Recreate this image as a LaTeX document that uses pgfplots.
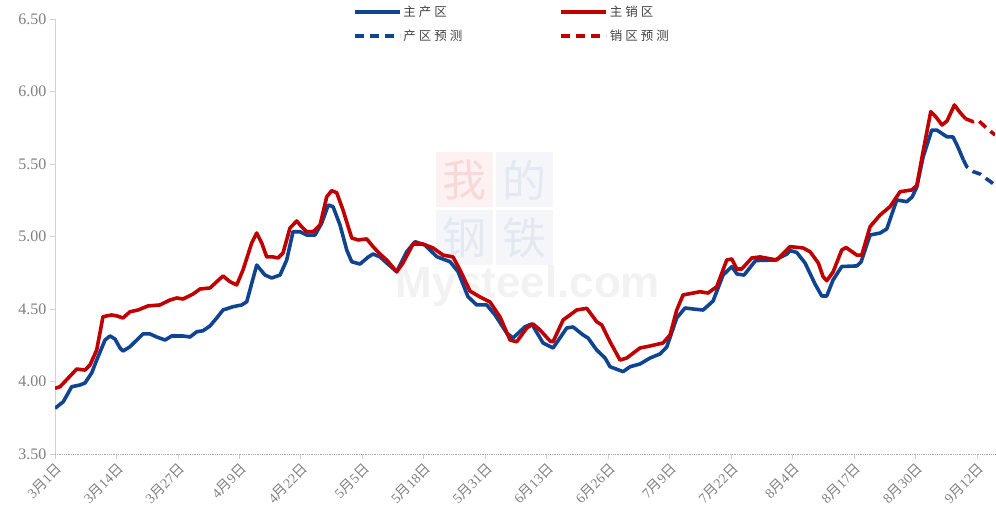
\documentclass[border=0pt]{standalone}
\usepackage{fontspec}
\setmainfont{Liberation Serif}
\newfontfamily\cjk{Noto Sans CJK SC}
\newfontfamily\wmsans{Liberation Sans}
\usepackage{pgfplots}
\pgfplotsset{compat=1.18}
\definecolor{cblue}{RGB}{16,68,145}
\definecolor{cred}{RGB}{192,0,0}
\definecolor{tickgray}{RGB}{128,128,128}
\definecolor{axgray}{RGB}{210,210,210}
\definecolor{leggray}{RGB}{64,64,64}
\definecolor{wmpinkbg}{RGB}{253,241,241}
\definecolor{wmpinkch}{RGB}{248,216,216}
\definecolor{wmbluebg}{RGB}{244,246,250}
\definecolor{wmbluech}{RGB}{228,233,241}
\newcommand\md[2]{#1{\cjk 月}#2{\cjk 日}}
\begin{document}
\begin{tikzpicture}
\begin{axis}[
  set layers,
  scale only axis, width=940pt, height=435pt,
  xmin=0, xmax=198.8, ymin=3.5, ymax=6.5,
  axis x line*=bottom, axis y line*=left,
  x axis line style={densely dotted, draw=tickgray!70, line width=0.8pt},
  y axis line style={draw=axgray, line width=0.8pt},
  xtick={0,13,26,39,52,65,78,91,104,117,130,143,156,169,182,195},
  xticklabels={\md{3}{1},\md{3}{14},\md{3}{27},\md{4}{9},\md{4}{22},\md{5}{5},\md{5}{18},\md{5}{31},\md{6}{13},\md{6}{26},\md{7}{9},\md{7}{22},\md{8}{4},\md{8}{17},\md{8}{30},\md{9}{12}},
  ytick={3.5,4,4.5,5,5.5,6,6.5},
  /pgf/number format/assume math mode=true,
  yticklabel style={/pgf/number format/fixed, /pgf/number format/fixed zerofill, /pgf/number format/precision=2, font=\fontsize{16}{16}\selectfont, text=tickgray},
  x tick label style={font=\fontsize{14}{14}\selectfont, text=tickgray, rotate=45, anchor=north east, inner sep=2pt},
  tick align=outside, major tick length=5pt,
  tick style={draw=axgray, line width=0.8pt},
  legend style={at={(0.486,1.04)}, anchor=north, draw=none, fill=none,
    font=\cjk\fontsize{12.5}{15}\selectfont, text=leggray,
    /tikz/every even column/.append style={column sep=95pt}, row sep=8pt},
  legend columns=2, legend cell align=left,
  legend image code/.code={\draw[#1] (0pt,0pt) -- (45pt,0pt);},
]
\begin{pgfonlayer}{axis background}
\node[fill=wmpinkbg, minimum width=57pt, minimum height=55pt, inner sep=0pt, text=wmpinkch, font=\cjk\fontsize{44}{44}\selectfont] at (axis cs:86.61,5.390) {我};
\node[fill=wmbluebg, minimum width=57pt, minimum height=55pt, inner sep=0pt, text=wmbluech, font=\cjk\fontsize{44}{44}\selectfont] at (axis cs:99.30,5.390) {的};
\node[fill=wmbluebg, minimum width=57pt, minimum height=55pt, inner sep=0pt, text=wmbluech, font=\cjk\fontsize{44}{44}\selectfont] at (axis cs:86.61,4.993) {钢};
\node[fill=wmbluebg, minimum width=57pt, minimum height=55pt, inner sep=0pt, text=wmbluech, font=\cjk\fontsize{44}{44}\selectfont] at (axis cs:99.30,4.993) {铁};
\node[anchor=base, inner sep=0pt, text=black!5, font=\wmsans\bfseries\fontsize{44}{44}\selectfont] at (axis cs:100.04,4.576) {Mysteel.com};
\end{pgfonlayer}

\addplot[cblue, line width=3.6pt, line join=round] coordinates {
(0,3.815)(1.76,3.861)(3.53,3.964)(5.29,3.976)(6.35,3.990)(7.76,4.059)(8.82,4.148)(10.58,4.286)(11.63,4.314)(12.69,4.293)(13.75,4.231)(14.38,4.210)(15.86,4.240)(18.61,4.328)(20.09,4.328)(21.51,4.307)(23.27,4.286)(24.68,4.314)(27.07,4.314)(28.55,4.307)(29.97,4.343)(31.3,4.350)(32.78,4.383)(34.2,4.438)(35.53,4.493)(37.65,4.516)(39.49,4.528)(40.55,4.550)(42.66,4.803)(44.42,4.734)(45.83,4.714)(47.59,4.734)(49.0,4.838)(50.34,5.033)(51.82,5.033)(53.24,5.010)(54.99,5.010)(56.41,5.093)(57.8,5.217)(58.8,5.206)(60.28,5.079)(61.7,4.907)(62.75,4.826)(64.51,4.810)(66.27,4.859)(67.26,4.879)(68.74,4.859)(70.16,4.817)(72.27,4.757)(74.39,4.895)(76.14,4.964)(78.26,4.941)(80.73,4.861)(83.55,4.826)(85.24,4.757)(87.35,4.585)(89.19,4.528)(91.31,4.528)(93.06,4.459)(95.54,4.334)(96.87,4.300)(99.41,4.378)(100.83,4.397)(103.21,4.266)(105.33,4.231)(108.23,4.369)(109.56,4.376)(111.68,4.321)(112.73,4.300)(114.57,4.217)(116.33,4.162)(117.39,4.102)(120.14,4.068)(121.62,4.102)(123.73,4.121)(125.85,4.162)(127.96,4.190)(129.38,4.238)(131.49,4.438)(133.25,4.507)(134.94,4.500)(137.06,4.493)(139.17,4.555)(141.29,4.734)(143.13,4.792)(144.25,4.741)(145.73,4.734)(148.16,4.834)(152.28,4.838)(154.82,4.879)(155.46,4.903)(156.87,4.890)(158.63,4.817)(160.74,4.672)(162.16,4.590)(163.22,4.590)(164.55,4.700)(166.39,4.793)(169.56,4.797)(170.47,4.824)(172.38,5.010)(174.49,5.024)(175.91,5.052)(178.02,5.252)(180.14,5.240)(181.26,5.272)(182.26,5.341)(183.59,5.548)(185.43,5.734)(186.49,5.734)(188.6,5.688)(189.93,5.686)(191.05,5.610)(192.11,5.528)
};
\addlegendentry{主\hspace{3pt}产\hspace{3pt}区}
\addplot[cred, line width=3.6pt, line join=round] coordinates {
(0,3.953)(1.06,3.964)(2.81,4.024)(4.59,4.086)(6.35,4.079)(7.4,4.114)(8.82,4.217)(10.15,4.447)(11.99,4.459)(13.11,4.452)(14.38,4.438)(15.86,4.481)(17.55,4.493)(19.67,4.521)(22.21,4.528)(24.32,4.562)(25.74,4.576)(27.07,4.569)(29.19,4.603)(30.67,4.638)(32.78,4.645)(34.2,4.688)(35.53,4.728)(37.01,4.688)(38.43,4.666)(39.76,4.769)(41.6,4.955)(42.66,5.024)(43.72,4.955)(44.78,4.859)(46.11,4.859)(47.17,4.852)(48.22,4.886)(49.7,5.059)(51.12,5.107)(52.18,5.066)(53.24,5.033)(54.57,5.033)(56.05,5.079)(57.47,5.274)(58.52,5.316)(59.58,5.302)(60.91,5.183)(62.75,4.990)(64.09,4.976)(65.93,4.983)(67.26,4.930)(68.74,4.879)(70.16,4.838)(72.27,4.757)(73.6,4.817)(75.72,4.948)(77.83,4.948)(79.95,4.921)(82.06,4.872)(84.18,4.859)(85.66,4.769)(87.77,4.624)(89.89,4.583)(92.01,4.548)(94.12,4.445)(96.24,4.286)(97.65,4.274)(99.77,4.369)(101.1,4.397)(102.58,4.355)(104.7,4.279)(105.33,4.274)(107.45,4.424)(110.34,4.493)(112.46,4.505)(114.57,4.412)(115.63,4.390)(117.39,4.274)(119.5,4.148)(120.92,4.162)(123.73,4.231)(125.85,4.245)(128.6,4.266)(130.08,4.321)(131.49,4.493)(132.83,4.597)(134.94,4.610)(136.42,4.619)(138.11,4.610)(139.95,4.654)(142.07,4.838)(143.13,4.845)(144.18,4.776)(145.24,4.776)(147.36,4.852)(149.11,4.859)(152.64,4.838)(155.46,4.930)(158.21,4.921)(159.69,4.895)(161.44,4.817)(162.44,4.723)(163.22,4.695)(164.55,4.755)(166.39,4.907)(167.3,4.924)(169.56,4.872)(170.62,4.872)(172.38,5.068)(174.49,5.148)(176.61,5.206)(178.72,5.309)(181.2,5.321)(182.26,5.352)(183.59,5.586)(185.21,5.861)(186.27,5.826)(187.6,5.769)(188.66,5.797)(190.21,5.907)(191.41,5.855)(192.58,5.812)
};
\addlegendentry{主\hspace{3pt}销\hspace{3pt}区}
\addplot[cblue, line width=3.6pt, dash pattern=on 9pt off 6pt] coordinates {
(192.11,5.528)(192.83,5.481)(194.23,5.447)(195.64,5.431)(197.33,5.390)(198.82,5.355)
};
\addlegendentry{产\hspace{3pt}区\hspace{3pt}预\hspace{3pt}测}
\addplot[cred, line width=3.6pt, dash pattern=on 9pt off 6pt] coordinates {
(192.58,5.812)(194.16,5.792)(195.22,5.803)(197.06,5.746)(198.82,5.700)
};
\addlegendentry{销\hspace{3pt}区\hspace{3pt}预\hspace{3pt}测}
\end{axis}
\path (current axis.south west) ++(-55pt,-61pt);
\path (current axis.north east) ++(1pt,19pt);
\end{tikzpicture}
\end{document}
